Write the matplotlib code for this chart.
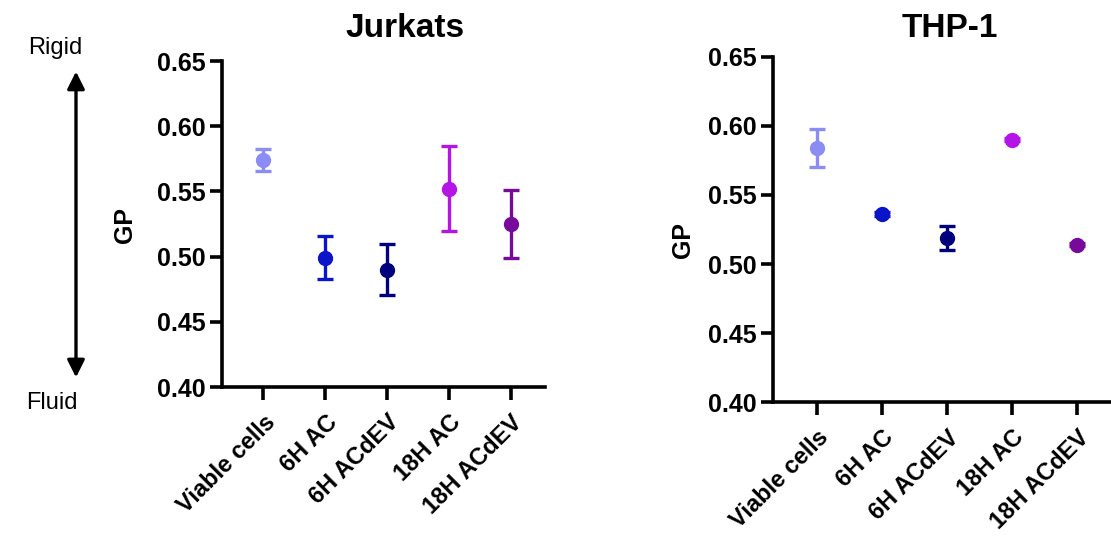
import matplotlib.pyplot as plt
from matplotlib.patches import FancyArrowPatch

plt.rcParams['font.family'] = ['Liberation Sans', 'DejaVu Sans']

groups = ['Viable cells', '6H AC', '6H ACdEV', '18H AC', '18H ACdEV']
colors = ['#8c8cf5', '#0a14c8', '#00007f', '#b414e6', '#780a9b']

jurkat_gp = [0.574, 0.499, 0.490, 0.552, 0.525]
jurkat_err = [0.0085, 0.0165, 0.0195, 0.0325, 0.026]

thp1_gp = [0.584, 0.536, 0.519, 0.590, 0.514]
thp1_err = [0.0135, 0.0015, 0.0085, 0.001, 0.001]

yticks = [0.40, 0.45, 0.50, 0.55, 0.60, 0.65]


def gp_panel(ax, vals, errs, xlim):
    for i, (v, e, c) in enumerate(zip(vals, errs, colors)):
        ax.errorbar(i, v, yerr=e, fmt='o', color=c, ms=10, elinewidth=2.4,
                    capsize=6, capthick=2.4, clip_on=False, zorder=3)
    ax.set_xlim(*xlim)
    ax.set_ylim(0.40, 0.65)
    ax.set_yticks(yticks)
    ax.set_yticklabels([f'{t:.2f}' for t in yticks], fontsize=18, fontweight='bold')
    ax.set_xticks(range(len(groups)))
    ax.set_xticklabels(groups, rotation=45, ha='right', rotation_mode='anchor',
                       fontsize=17, fontweight='bold')
    for s in ['top', 'right']:
        ax.spines[s].set_visible(False)
    for s in ['left', 'bottom']:
        ax.spines[s].set_linewidth(2.6)
    ax.tick_params(width=2.6, length=9, pad=3)
    ax.tick_params(axis='x', pad=8)


fig = plt.figure(figsize=(11.11, 5.37), dpi=100)
ax1 = fig.add_axes([0.1998, 0.2793, 0.2907, 0.6071])
ax2 = fig.add_axes([0.6958, 0.2508, 0.3042, 0.6436])

gp_panel(ax1, jurkat_gp, jurkat_err, (-0.67, 4.55))
gp_panel(ax2, thp1_gp, thp1_err, (-0.68, 4.52))

fig.text(0.3645, 0.931, 'Jurkats', fontsize=24, fontweight='bold', ha='center', va='baseline')
fig.text(0.855, 0.931, 'THP-1', fontsize=24, fontweight='bold', ha='center', va='baseline')
fig.text(0.1125, 0.581, 'GP', fontsize=18, fontweight='bold', rotation=90, ha='center', va='center')
fig.text(0.6147, 0.553, 'GP', fontsize=18, fontweight='bold', rotation=90, ha='center', va='center')

# rigid / fluid scale arrow on the left
fig.patches.append(FancyArrowPatch(
    (0.0684, 0.872), (0.0684, 0.292), transform=fig.transFigure,
    arrowstyle='<|-|>', mutation_scale=26, lw=2.4, color='black'))
fig.text(0.05, 0.911, 'Rigid', fontsize=17, ha='center', va='center')
fig.text(0.047, 0.249, 'Fluid', fontsize=17, ha='center', va='center')

fig.savefig('out.png', dpi=100)
